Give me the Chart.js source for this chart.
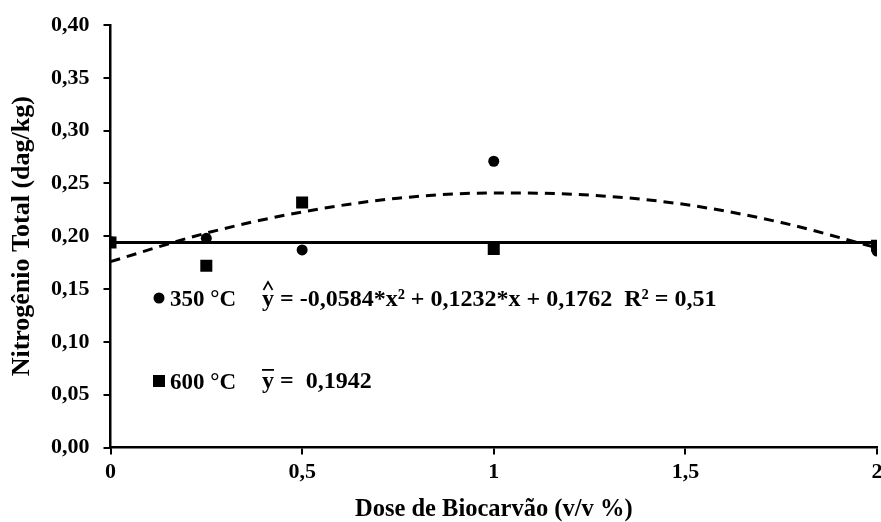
<!DOCTYPE html>
<html>
<head>
<meta charset="utf-8">
<script src="https://cdn.jsdelivr.net/npm/chart.js@4/dist/chart.umd.min.js"></script>
<style>
  html, body { margin: 0; padding: 0; background: #fff; overflow: hidden; }
  #wrap { width: 889px; height: 522px; position: relative; }
</style>
</head>
<body>
<div id="wrap"><canvas id="chart"></canvas></div>
<script>
// Dose de biocarvão (v/v %)
var doses = [0, 0.25, 0.5, 1, 2];
// Nitrogênio total (dag/kg)
var n350 = [0.195, 0.198, 0.187, 0.271, 0.186];
var n600 = [0.194, 0.172, 0.232, 0.188, 0.191];
// fitted curve for 350 °C
var curveX = [0, 0.25, 0.5, 0.75, 1, 1.25, 1.5, 1.75, 2];
var curveY = [0.176, 0.203, 0.223, 0.236, 0.241, 0.239, 0.230, 0.213, 0.189];
// mean line for 600 °C
var meanX = [0, 2];
var meanY = [0.1942, 0.1942];

var yTicks = [0, 0.05, 0.10, 0.15, 0.20, 0.25, 0.30, 0.35, 0.40];
var xTicks = [0, 0.5, 1, 1.5, 2];

var serif = "'Liberation Serif', 'Times New Roman', serif";

function toPoints(xs, ys) {
    return xs.map(function (x, i) { return { x: x, y: ys[i] }; });
}

// legend + equations written inside the plot
var notes = {
    id: 'notes',
    afterDraw: function (chart) {
        var ctx = chart.ctx;
        ctx.save();
        ctx.fillStyle = '#000';
        ctx.strokeStyle = '#000';
        // markers
        ctx.beginPath();
        ctx.arc(159, 298, 5.5, 0, Math.PI * 2);
        ctx.fill();
        ctx.fillRect(153, 375, 12, 12);
        ctx.textBaseline = 'alphabetic';
        ctx.font = 'bold 23px ' + serif;
        ctx.fillText('350 °C', 170, 306);
        ctx.fillText('600 °C', 170, 389);
        ctx.font = 'bold 24px ' + serif;
        ctx.fillText('y = -0,0584*x² + 0,1232*x + 0,1762  R² = 0,51', 262, 306);
        ctx.fillText('y =  0,1942', 262, 388);
        // hat over y
        ctx.lineWidth = 1.6;
        ctx.beginPath();
        ctx.moveTo(263.5, 290);
        ctx.lineTo(268, 282);
        ctx.lineTo(272.5, 290);
        ctx.stroke();
        // bar over y
        ctx.fillRect(262, 369, 12, 1.8);
        ctx.restore();
    }
};

var ctx = document.getElementById('chart').getContext('2d');
var myChart = new Chart(ctx, {
    type: 'scatter',
    data: {
        datasets: [
            {
                label: 'Curva 350',
                type: 'line',
                data: toPoints(curveX, curveY),
                borderColor: '#000',
                borderWidth: 3,
                borderDash: [10, 7],
                pointRadius: 0,
                fill: false,
                cubicInterpolationMode: 'monotone'
            },
            {
                label: 'Média 600',
                type: 'line',
                data: toPoints(meanX, meanY),
                borderColor: '#000',
                borderWidth: 3,
                pointRadius: 0,
                fill: false
            },
            {
                label: '600 °C',
                data: toPoints(doses, n600),
                pointStyle: 'rect',
                pointRadius: 8.5,
                backgroundColor: '#000',
                borderColor: '#000',
                borderWidth: 0
            },
            {
                label: '350 °C',
                data: toPoints(doses, n350),
                pointStyle: 'circle',
                pointRadius: 5.5,
                backgroundColor: '#000',
                borderColor: '#000',
                borderWidth: 0
            }
        ]
    },
    options: {
        responsive: true,
        maintainAspectRatio: false,
        animation: false,
        layout: { padding: { top: 23, left: 0, right: 0, bottom: 0 } },
        scales: {
            x: {
                type: 'linear',
                min: 0,
                max: 2,
                afterBuildTicks: function (axis) {
                    axis.ticks = xTicks.map(function (v) { return { value: v }; });
                },
                grid: {
                    drawOnChartArea: false,
                    color: '#000',
                    lineWidth: 2,
                    tickLength: 7
                },
                border: { color: '#000', width: 2.5 },
                ticks: {
                    color: '#000',
                    font: { family: serif, weight: 'bold', size: 22, lineHeight: 1 },
                    padding: 6.5,
                    maxRotation: 0,
                    callback: function (v) { return String(v).replace('.', ','); }
                },
                title: {
                    display: true,
                    text: 'Dose de Biocarvão (v/v %)',
                    color: '#000',
                    font: { family: serif, weight: 'bold', size: 24.5, lineHeight: 1 },
                    padding: { top: 8, bottom: 0 }
                }
            },
            y: {
                type: 'linear',
                min: 0,
                max: 0.40,
                afterBuildTicks: function (axis) {
                    axis.ticks = yTicks.map(function (v) { return { value: v }; });
                },
                grid: {
                    drawOnChartArea: false,
                    color: '#000',
                    lineWidth: 2,
                    tickLength: 7
                },
                border: { color: '#000', width: 2.5 },
                ticks: {
                    color: '#000',
                    font: { family: serif, weight: 'bold', size: 22, lineHeight: 1 },
                    padding: 14,
                    callback: function (v) { return v.toFixed(2).replace('.', ','); }
                },
                title: {
                    display: true,
                    text: 'Nitrogênio Total (dag/kg)',
                    color: '#000',
                    font: { family: serif, weight: 'bold', size: 26, lineHeight: 1 },
                    padding: { top: 9, bottom: 2 }
                }
            }
        },
        plugins: {
            legend: { display: false },
            tooltip: { enabled: false }
        }
    },
    plugins: [notes]
});
</script>
</body>
</html>
